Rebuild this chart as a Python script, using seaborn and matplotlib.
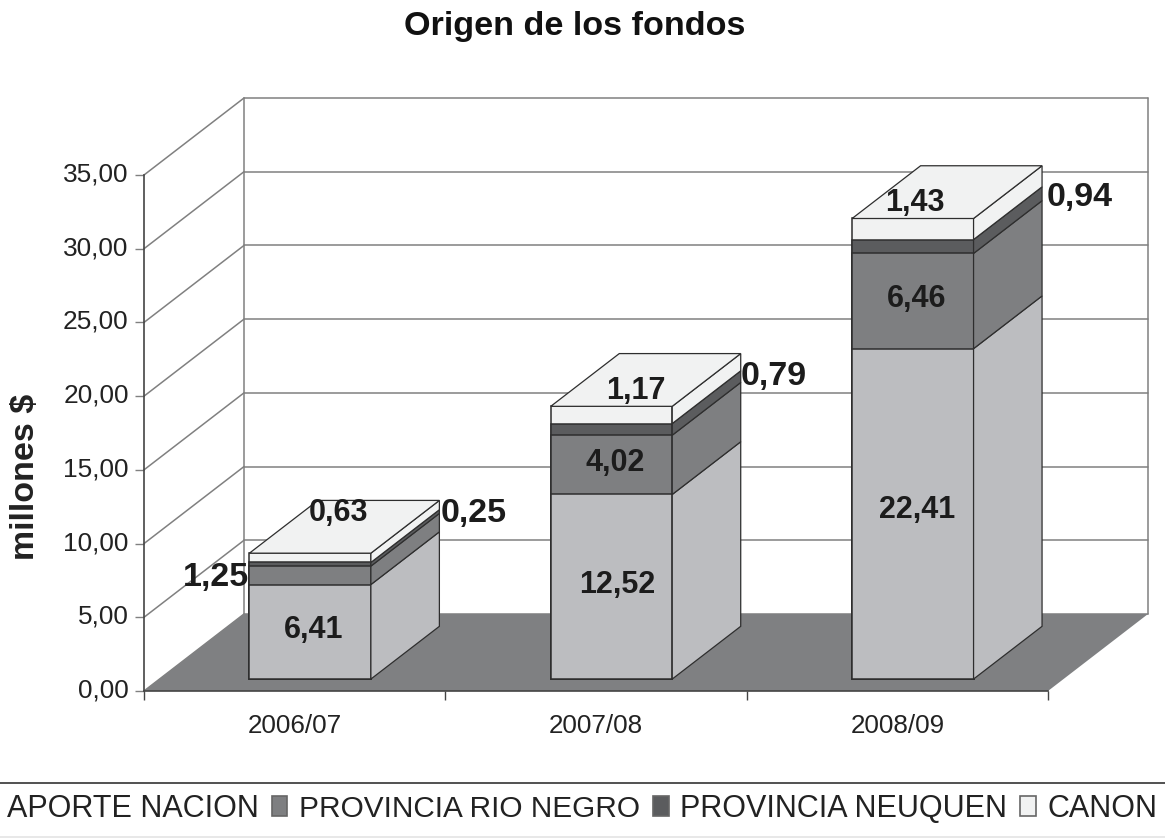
import matplotlib
matplotlib.use('Agg')
import matplotlib.pyplot as plt
from matplotlib.lines import Line2D
from matplotlib.patches import Patch, Polygon
from matplotlib.transforms import Affine2D, ScaledTranslation
import numpy as np
import seaborn as sns

years = ['2006/07', '2007/08', '2008/09']
aporte_nacion = [6.41, 12.52, 22.41]
rio_negro = [1.25, 4.02, 6.46]
neuquen = [0.25, 0.79, 0.94]
canon = [0.63, 1.17, 1.43]
series_names = ['APORTE NACION', 'PROVINCIA RIO NEGRO', 'PROVINCIA NEUQUEN', 'CANON']
y_ticks = [0, 5, 10, 15, 20, 25, 30, 35]
y_labels = ['0,00', '5,00', '10,00', '15,00', '20,00', '25,00', '30,00', '35,00']

colors = ['#bcbdc0', '#7e7f81', '#5b5c5e', '#f1f2f2']
edge = '#2e2e2e'
grid = '#808080'
text_c = '#222222'

W, H = 1165, 838
sns.set_style('white')
plt.rcParams['font.family'] = ['Liberation Sans', 'DejaVu Sans']

fig = plt.figure(figsize=(W / 100, H / 100), dpi=100)
ax = fig.add_axes([144 / W, 1 - 691 / H, 904 / W, 516 / H])

# fake 3d: depth 0..1 moves a point back along the floor
depth_x = 100 / (904 / 3)
depth_y = 77 / (516 / 35)
d0, d1 = 0.155, 0.84
bar_w = 0.403


def proj(x, y, d):
    return (x + d * depth_x, y + d * depth_y)


# side wall and back wall
for v in y_ticks:
    ax.plot(*zip(proj(-0.5, v, 0), proj(-0.5, v, 1)), color=grid, lw=1.1, zorder=1, clip_on=False)
    ax.plot(*zip(proj(-0.5, v, 1), proj(2.5, v, 1)), color=grid, lw=1.1, zorder=1, clip_on=False)
for x in [-0.5, 2.5]:
    ax.plot(*zip(proj(x, 0, 1), proj(x, 35, 1)), color=grid, lw=1.1, zorder=1, clip_on=False)

# floor
ax.add_patch(Polygon([proj(-0.5, 0, 0), proj(2.5, 0, 0), proj(2.5, 0, 1), proj(-0.5, 0, 1)],
                     closed=True, facecolor='#7f8082', edgecolor='none', zorder=2, clip_on=False))

# stacked front faces, tallest first so the lower ones cover them
stack = np.cumsum([aporte_nacion, rio_negro, neuquen, canon], axis=0)
shift = Affine2D().translate(d0 * depth_x, d0 * depth_y)
for k in [3, 2, 1, 0]:
    sns.barplot(x=years, y=stack[k], color=colors[k], saturation=1, width=bar_w,
                edgecolor=edge, linewidth=1.1, errorbar=None, ax=ax, zorder=3)
for p in ax.patches:
    if p.get_zorder() == 3:
        p.set_transform(shift + ax.transData)
        p.set_clip_on(False)

# side and top faces
for i in range(3):
    x1 = i + bar_w / 2
    x0 = i - bar_w / 2
    low = 0
    for k in range(4):
        high = stack[k][i]
        ax.add_patch(Polygon([proj(x1, low, d0), proj(x1, high, d0), proj(x1, high, d1), proj(x1, low, d1)],
                             closed=True, facecolor=colors[k], edgecolor=edge, lw=0.9, zorder=3, clip_on=False))
        low = high
    ax.add_patch(Polygon([proj(x0, low, d0), proj(x1, low, d0), proj(x1, low, d1), proj(x0, low, d1)],
                         closed=True, facecolor=colors[3], edgecolor=edge, lw=0.9, zorder=3, clip_on=False))

ax.set_xlim(-0.5, 2.5)
ax.set_ylim(0, 35)
ax.set_yticks(y_ticks)
ax.set_yticklabels(y_labels, fontsize=18.9, color=text_c)
ax.set_xticks([0, 1, 2])
ax.set_xticklabels(years, fontsize=18.7, color=text_c)
ax.set_xticks([-0.5, 0.5, 1.5, 2.5], minor=True)
ax.tick_params(axis='x', which='major', length=0, pad=16.7)
ax.tick_params(axis='x', which='minor', bottom=True, length=6.5, width=1, color='#444444')
ax.tick_params(axis='y', left=True, length=6.5, width=1, color=grid, pad=4.5)
for lab in ax.get_yticklabels():
    lab.set_transform(lab.get_transform() + ScaledTranslation(0, 3 / 100, fig.dpi_scale_trans))
for side in ['top', 'right']:
    ax.spines[side].set_visible(False)
for side in ['left', 'bottom']:
    ax.spines[side].set_color('#444444')
    ax.spines[side].set_linewidth(1.2)
    ax.spines[side].set_zorder(4)
ax.set_facecolor('none')

ax.set_ylabel('millones $', fontsize=24.5, fontweight='bold', color=text_c)
ax.yaxis.set_label_coords(-(144 - 41) / 904, (691 - 477) / 516)
fig.suptitle('Origen de los fondos', x=575 / W, y=1 - 26 / H, va='center',
             fontsize=24.6, fontweight='bold', color='#111111')

# value labels, offset in pixels from the middle of each segment
offsets = [
    [(19, 14), (21, 14), (20, 16)],
    [(-79, 10), (19, 14), (19, 14)],
    [(179, 63), (178, 65), (182, 61)],
    [(44, 57), (40, 36), (18, 38)],
]
sizes = [22, 22, 24.5, 22]
values = [aporte_nacion, rio_negro, neuquen, canon]
for k in range(4):
    for i in range(3):
        label = f'{values[k][i]:.2f}'.replace('.', ',')
        size = 24.5 if (k == 1 and i == 0) else sizes[k]
        ax.annotate(label, xy=(i, stack[k][i] - values[k][i] / 2), xytext=offsets[k][i],
                    textcoords='offset pixels', ha='center', va='center', fontsize=size,
                    fontweight='bold', color='#1c1c1c', zorder=6, annotation_clip=False)

# legend strip, the first marker falls off the left edge as in the picture
handles = [Patch(facecolor=c, edgecolor='#666666', lw=1.2) for c in colors]
leg = fig.legend(handles, series_names, loc='center left', bbox_to_anchor=(-20 / W, 1 - 809 / H), ncol=4,
                 frameon=False, fontsize=22, handlelength=0.5, handleheight=0.62, handletextpad=0.39,
                 columnspacing=0.425, labelcolor=text_c, borderpad=0, borderaxespad=0)
leg.get_texts()[1].set_fontsize(21.4)
fig.add_artist(Line2D([0, 1], [1 - 783 / H, 1 - 783 / H], color='#333333', lw=1.2))
fig.add_artist(Line2D([0, 1], [1 - 837 / H, 1 - 837 / H], color='#e4e4e4', lw=1.2))

fig.savefig('out.png', dpi=100)
